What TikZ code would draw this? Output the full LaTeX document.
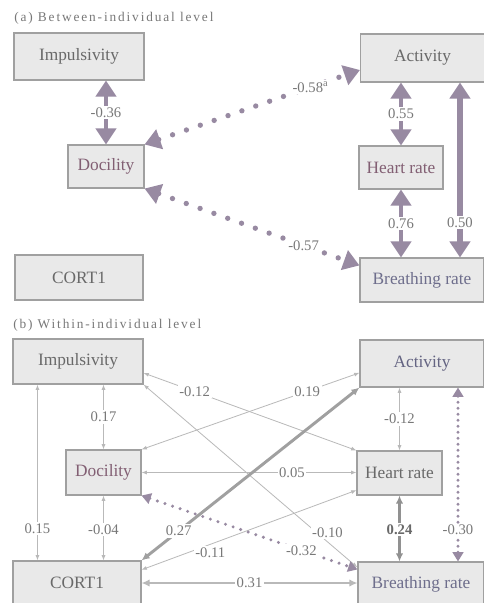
\documentclass[tikz,border=0pt]{standalone}
\usepackage{fontspec}
\setmainfont{Liberation Serif}
\newfontfamily\titlefont[LetterSpace=14]{Liberation Serif}
\usetikzlibrary{arrows.meta,calc}
\definecolor{cBoxFill}{RGB}{233,233,233}
\definecolor{cBoxLine}{RGB}{160,160,160}
\definecolor{cTxt}{RGB}{105,105,105}
\definecolor{cDoc}{RGB}{130,95,115}
\definecolor{cAct}{RGB}{100,100,130}
\definecolor{cBr}{RGB}{110,110,140}
\definecolor{cArrA}{RGB}{152,138,162}
\definecolor{cThin}{RGB}{185,185,185}
\definecolor{cThick}{RGB}{160,160,160}
\definecolor{cDark}{RGB}{145,145,145}
\definecolor{cLab}{RGB}{120,120,120}
\begin{document}
\begin{tikzpicture}[x=0.75pt,y=-0.75pt,
  box/.style={draw=cBoxLine, fill=cBoxFill, line width=0.8pt, inner sep=0pt,
    font=\fontsize{13}{15}\selectfont, text=cTxt},
  wh/.style 2 args={minimum width=#1*0.75pt, minimum height=#2*0.75pt},
  lbl/.style={fill=white, inner sep=1.2pt, font=\fontsize{11}{13}\selectfont, text=cLab},
  ttl/.style={anchor=west, inner sep=0pt, font=\titlefont\fontsize{10}{12}\selectfont, text=cLab},
  thickA/.style={draw=cArrA, line width=3pt,
    {Triangle[width=15pt,length=12pt]}-{Triangle[width=15pt,length=12pt]}},
  dotA/.style={draw=cArrA, line width=4pt, dash pattern=on 0pt off 11pt, line cap=round,
    {Triangle[width=15pt,length=12pt]}-{Triangle[width=15pt,length=12pt]}},
  thinB/.style={draw=cThin, line width=0.6pt,
    {Latex[length=4pt,width=3pt]}-{Latex[length=4pt,width=3pt]}},
  thickB/.style={draw=cThick, line width=2.2pt,
    {Latex[length=6pt,width=5.5pt]}-{Latex[length=6pt,width=5.5pt]}},
  dotB/.style={draw=cArrA, line width=2.5pt, dash pattern=on 0pt off 6pt, line cap=round,
    {Triangle[width=8pt,length=7pt]}-{Triangle[width=8pt,length=7pt]}}
]
\useasboundingbox (0,0) rectangle (484,603);
\fill[white] (0,0) rectangle (484,603);
\clip (0,0) rectangle (484,603);

% ---------- panel (a)
\node[ttl] (ta) at (14,18) {(a) Between-individual level};
\node[box, wh={130}{47}] (aimp) at (79,56.5) {Impulsivity};
\node[box, wh={124}{48}] (aact) at (422.5,58) {Activity};
\node[box, wh={76}{43}, text=cDoc] (adoc) at (106,166.5) {Docility};
\node[box, wh={84}{43}, text=cDoc] (ahr) at (401,167.5) {Heart rate};
\node[box, wh={128}{45}] (acort) at (79,277.5) {CORT1};
\node[box, wh={124}{44}, text=cBr] (abr) at (422,280) {Breathing rate};

\draw[thickA] (adoc.north |- aimp.south) -- node[lbl]{-0.36} (adoc.north);
\draw[thickA] (ahr.north |- aact.south) -- node[lbl]{0.55} (ahr.north);
\draw[thickA] (ahr.south) -- node[lbl]{0.76} (ahr.south |- abr.north);
\coordinate (a50) at ([xshift=28.1pt]aact.south);
\draw[thickA, line width=4pt] (a50) -- node[lbl,pos=0.8]{0.50} (a50 |- abr.north);
\draw[dotA] (adoc.north east) -- node[lbl,pos=0.77]{-0.58\textsuperscript{a}} ([yshift=-9pt]aact.west);
\draw[dotA] (adoc.south east) -- node[lbl,pos=0.74]{-0.57} ([yshift=-6pt]abr.north west);

% ---------- panel (b)
\node[ttl] (tb) at (13,325) {(b) Within-individual level};
\node[box, wh={130}{45}] (bimp) at (78,361.5) {Impulsivity};
\node[box, wh={124}{47}, text=cAct] (bact) at (422,363.5) {Activity};
\node[box, wh={75}{45}, text=cDoc] (bdoc) at (103.5,472.5) {Docility};
\node[box, wh={85}{44}] (bhr) at (399.5,473) {Heart rate};
\node[box, wh={128}{44}] (bcort) at (77,583) {CORT1};
\node[box, wh={126}{44}, text=cBr] (bbr) at (421,584) {Breathing rate};

\coordinate (b15) at ([xshift=18.75pt]bimp.south west);
\draw[thinB, line width=1.3pt] (b15) -- node[lbl,pos=0.82]{0.15} (b15 |- bcort.north);
\draw[thinB] (bdoc.north |- bimp.south) -- node[lbl]{0.17} (bdoc.north);
\draw[thinB] (bdoc.south) -- node[lbl,pos=0.52]{-0.04} (bdoc.south |- bcort.north);
\draw[thinB] ([yshift=-8.6pt]bimp.east) -- node[lbl,pos=0.24]{-0.12} (bhr.north west);
\draw[thinB] (bimp.south east) -- node[lbl,pos=0.86,yshift=7pt]{-0.10} ([yshift=-4.5pt]bbr.north west);
\draw[thinB] (bdoc.north east) -- node[lbl,pos=0.76]{0.19} ([yshift=-7pt]bact.west);
\draw[thinB] (bdoc.east) -- node[lbl,pos=0.7]{0.05} (bdoc.east -| bhr.west);
\draw[thinB] ([yshift=-7pt]bcort.north east) -- node[lbl,pos=0.32,yshift=-6pt]{-0.11} ([yshift=4pt]bhr.south west);
\draw[thinB] (bhr.north |- bact.south) -- node[lbl]{-0.12} (bhr.north);
\draw[dotB] (bdoc.south east) -- node[lbl,pos=0.74]{-0.32} ([yshift=-6pt]bbr.north west);
\draw[thickB] (bcort.north east) -- node[lbl,pos=0.17]{0.27} (bact.south west);
\draw[thickB, draw=cThin] (bcort.east) -- node[lbl]{0.31} (bcort.east -| bbr.west);
\draw[thickB, line width=1.8pt, draw=cDark] (bhr.south) -- node[lbl,pos=0.52,font=\fontsize{11}{13}\selectfont\bfseries,text=cTxt]{0.24} (bhr.south |- bbr.north);
\coordinate (b30) at ([xshift=27pt]bact.south);
\draw[dotB, dash pattern=on 0pt off 4.5pt] (b30) -- node[lbl,pos=0.82]{-0.30} (b30 |- bbr.north);
\end{tikzpicture}
\end{document}
